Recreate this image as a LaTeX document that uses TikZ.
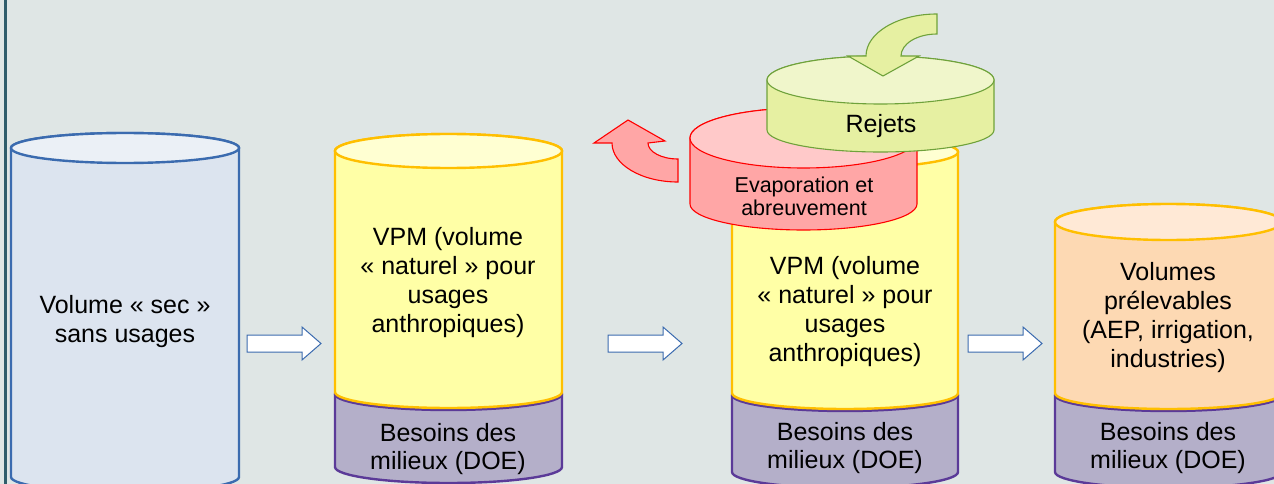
\documentclass[tikz,border=0pt]{standalone}
\usepackage{fontspec}
\setmainfont{Liberation Sans}
\definecolor{bg}{HTML}{DFE6E5}
\definecolor{frameline}{HTML}{2F5D6B}
\definecolor{bluebody}{HTML}{DCE4EF}
\definecolor{bluetop}{HTML}{EBF0F6}
\definecolor{bluestroke}{HTML}{3B6BAF}
\definecolor{yelbody}{HTML}{FFFFA6}
\definecolor{yeltop}{HTML}{FFFFD2}
\definecolor{orastroke}{HTML}{FFBF00}
\definecolor{purbody}{HTML}{B4AFC9}
\definecolor{purstroke}{HTML}{5B3A98}
\definecolor{peabody}{HTML}{FDD9B3}
\definecolor{peatop}{HTML}{FFE9D6}
\definecolor{redbody}{HTML}{FFA6A6}
\definecolor{redtop}{HTML}{FFC9C9}
\definecolor{redstroke}{HTML}{FF0000}
\definecolor{grnbody}{HTML}{E6F0A2}
\definecolor{grntop}{HTML}{F0F6CB}
\definecolor{grnstroke}{HTML}{6FA23B}
\newcommand\cylbody[7]{%
  \pgfmathsetmacro\crx{(#3-#2)/2}%
  \path[#1] (#2,#4) -- (#2,#5) arc[start angle=180,end angle=360,x radius=\crx pt,y radius=#7pt] -- (#3,#4) arc[start angle=0,end angle=180,x radius=\crx pt,y radius=#6pt] -- cycle;}
\newcommand\cyltop[5]{%
  \pgfmathsetmacro\crx{(#3-#2)/2}%
  \pgfmathsetmacro\ccx{(#3+#2)/2}%
  \path[#1] (\ccx,#4) ellipse[x radius=\crx pt,y radius=#5pt];}
\newcommand\cyllow[5]{%
  \pgfmathsetmacro\crx{(#3-#2)/2}%
  \path[#1] (#2,#4) arc[start angle=180,end angle=360,x radius=\crx pt,y radius=#5pt];}
\tikzset{
  bluecyl/.style={fill=bluebody,draw=bluestroke,line width=2.4pt},
  bluecap/.style={fill=bluetop,draw=bluestroke,line width=2.4pt},
  yelcyl/.style={fill=yelbody,draw=orastroke,line width=2.4pt},
  yelcap/.style={fill=yeltop,draw=orastroke,line width=2.4pt},
  peacyl/.style={fill=peabody,draw=orastroke,line width=2.4pt},
  peacap/.style={fill=peatop,draw=orastroke,line width=2.4pt},
  purcyl/.style={fill=purbody,draw=purstroke,line width=2.4pt},
  purline/.style={draw=purstroke,line width=2.4pt},
  redcyl/.style={fill=redbody,draw=redstroke,line width=1.1pt},
  redcap/.style={fill=redtop,draw=redstroke,line width=1.1pt},
  grncyl/.style={fill=grnbody,draw=grnstroke,line width=1.1pt},
  grncap/.style={fill=grntop,draw=grnstroke,line width=1.1pt},
  blockarrow/.style={fill=white,draw=bluestroke,line width=1pt,line join=miter},
  bigtxt/.style={align=center,inner sep=0pt,font=\fontsize{25}{29}\selectfont,text=black},
  midtxt/.style={align=center,inner sep=0pt,font=\fontsize{25}{27.5}\selectfont,text=black},
  smalltxt/.style={align=center,inner sep=0pt,font=\fontsize{21.5}{23}\selectfont,text=black},
}
\begin{document}
\begin{tikzpicture}[x=1pt,y=-1pt]
\useasboundingbox (0,0) rectangle (1274,484);
\clip (0,0) rectangle (1274,484);
\fill[bg] (0,0) rectangle (1274,484);
\fill[frameline] (4,0) rectangle (7,484);

% cylinder 1
\cylbody{bluecyl}{11}{239}{148}{477}{15}{15}
\cyltop{bluecap}{11}{239}{148}{15}
\node[bigtxt] (c1) at (125,322) {Volume « sec »\\sans usages};

% cylinder 2
\cylbody{purcyl}{335}{562}{394}{467}{16}{16}
\cyllow{purline}{335}{562}{394}{16}
\cylbody{yelcyl}{335}{562}{151}{392}{17}{16}
\cyltop{yelcap}{335}{562}{151}{17}
\node[bigtxt] (c2) at (448,283) {VPM (volume\\« naturel » pour\\usages\\anthropiques)};
\node[midtxt] (c2b) at (448,449) {Besoins des\\milieux (DOE)};

% cylinder 3
\cylbody{purcyl}{732}{958}{395}{472}{16}{16}
\cyllow{purline}{732}{958}{395}{16}
\cylbody{yelcyl}{732}{958}{152}{393}{16}{16}
\cyltop{yelcap}{732}{958}{152}{16}
\node[bigtxt] (c3) at (845,312) {VPM (volume\\« naturel » pour\\usages\\anthropiques)};
\node[midtxt] (c3b) at (845,448) {Besoins des\\milieux (DOE)};

% cylinder 4
\cylbody{purcyl}{1055}{1282}{395}{472}{16}{16}
\cyllow{purline}{1055}{1282}{395}{16}
\cylbody{peacyl}{1055}{1282}{222}{393}{18}{16}
\cyltop{peacap}{1055}{1282}{222}{18}
\node[bigtxt] (c4) at (1168,318) {Volumes\\prélevables\\(AEP, irrigation,\\industries)};
\node[midtxt] (c4b) at (1168,448) {Besoins des\\milieux (DOE)};

% red evaporation cylinder
\cylbody{redcyl}{690}{917}{138}{204}{30}{26}
\cyltop{redcap}{690}{917}{138}{30}
\node[smalltxt] (ev) at (804,196) {Evaporation et\\abreuvement};
% red curved arrow
\path[redcyl] (594,143) -- (628,120) -- (665,141) -- (648,143)
  arc[start angle=180,end angle=270,x radius=30pt,y radius=16pt]
  -- (678,182)
  arc[start angle=270,end angle=180,x radius=66pt,y radius=39pt]
  -- cycle;

% green rejets cylinder
\cylbody{grncyl}{767}{994}{80}{130}{24}{22}
\cyltop{grncap}{767}{994}{80}{24}
\node[bigtxt] (rj) at (881,126) {Rejets};
% green curved arrow
\path[grncyl] (937,14) -- (937,34)
  arc[start angle=90,end angle=180,x radius=36pt,y radius=22pt]
  -- (919,56) -- (883,76) -- (848,56) -- (866,56)
  arc[start angle=180,end angle=90,x radius=71pt,y radius=42pt]
  -- cycle;

% block arrows
\foreach \dx/\nm in {0/a1,361/a2,721/a3}{
  \path[blockarrow,shift={(\dx,0)}] (247,335) -- (302,335) -- (302,327) -- (321,343.5) -- (302,360) -- (302,352) -- (247,352) -- cycle;
}
\end{tikzpicture}
\end{document}
